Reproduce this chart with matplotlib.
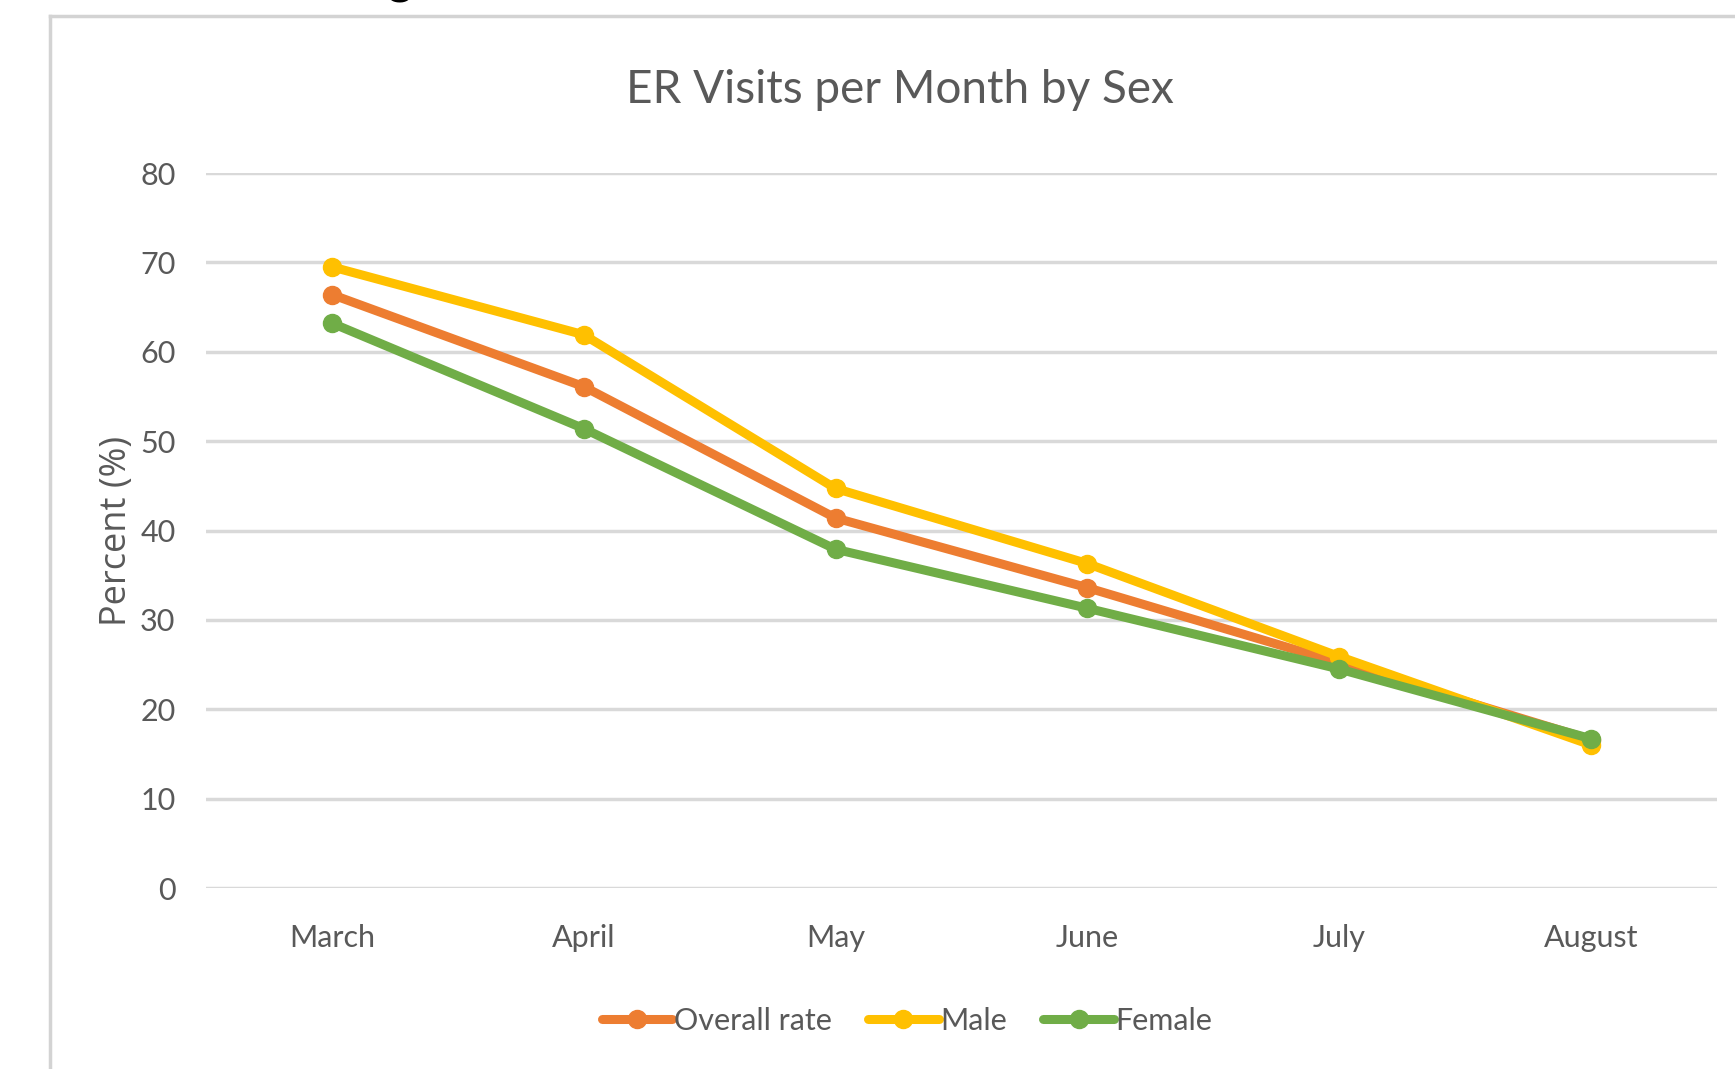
import matplotlib
matplotlib.use("Agg")
import matplotlib.pyplot as plt
from matplotlib.lines import Line2D

months = ["March", "April", "May", "June", "July", "August"]
overall = [66.4, 56.1, 41.4, 33.6, 25.2, 16.6]
male = [69.5, 61.9, 44.7, 36.3, 25.9, 16.0]
female = [63.2, 51.4, 37.9, 31.3, 24.5, 16.7]

series = [
    ("Overall rate", overall, "#ED7D31"),
    ("Male", male, "#FFC000"),
    ("Female", female, "#70AD47"),
]

plt.rcParams["font.family"] = ["Lato", "DejaVu Sans"]
text_color = "#595959"

fig = plt.figure(figsize=(17.35, 10.69), dpi=100)
fig.patch.set_facecolor("white")

# border of the chart box (screenshot edge)
fig.add_artist(Line2D([50 / 1735, 50 / 1735], [0, 1 - 16 / 1069],
                      color="#D3D3D3", lw=2.5, transform=fig.transFigure))
fig.add_artist(Line2D([50 / 1735, 1], [1 - 16 / 1069, 1 - 16 / 1069],
                      color="#D3D3D3", lw=2.5, transform=fig.transFigure))
# cut off letter from text above the screenshot
fig.text(400 / 1735, 1 + 6 / 1069, "g", fontsize=34, fontweight="bold",
         color="black", ha="center", va="baseline")

ax = fig.add_axes([206 / 1735, 181 / 1069, 1511 / 1735, 715 / 1069])
x = list(range(len(months)))
for name, vals, col in series:
    ax.plot(x, vals, color=col, lw=6.5, marker="o", markersize=13,
            solid_capstyle="round", label=name, zorder=3)

ax.set_xlim(-0.5, len(months) - 0.5)
ax.set_ylim(0, 80)
ax.set_yticks(range(0, 81, 10))
ax.set_xticks(x)
ax.set_xticklabels(months)
ax.grid(axis="y", color="#D9D9D9", lw=2.5)
ax.set_axisbelow(True)
for s in ax.spines.values():
    s.set_visible(False)
ax.tick_params(axis="both", length=0, labelsize=22, colors=text_color)
ax.tick_params(axis="y", pad=22)
ax.tick_params(axis="x", pad=26)

fig.text(117 / 1735, 1 - 531 / 1069, "Percent (%)", rotation=90, fontsize=26,
         family=["Open Sans", "DejaVu Sans"], color=text_color,
         ha="center", va="center")
fig.text(900 / 1735, 1 - 90 / 1069, "ER Visits per Month by Sex", fontsize=33,
         color=text_color, ha="center", va="center")

fig.legend(loc="center", bbox_to_anchor=(907 / 1735, 1 - 1021 / 1069), ncol=3,
           frameon=False, fontsize=22, handlelength=2.3, handletextpad=0.05,
           columnspacing=1.2, labelcolor=text_color)

fig.savefig("out.png", dpi=100, facecolor="white")
